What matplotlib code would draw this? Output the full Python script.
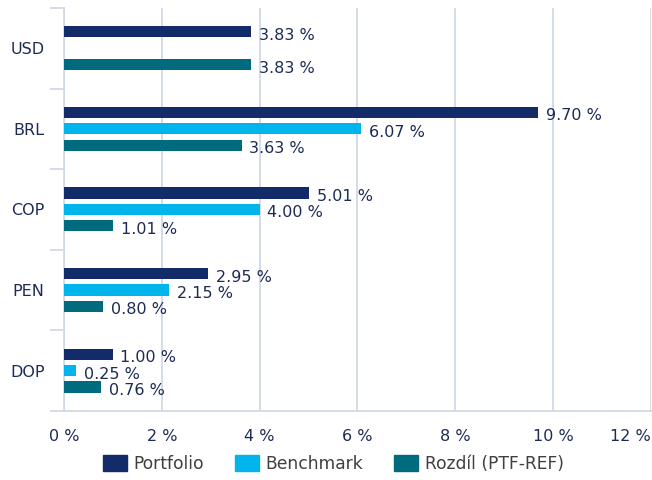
import numpy as np
import matplotlib
matplotlib.use('Agg')
import matplotlib.pyplot as plt
from matplotlib.patches import Patch

categories = ['USD', 'BRL', 'COP', 'PEN', 'DOP']
portfolio = [3.83, 9.70, 5.01, 2.95, 1.00]
benchmark = [np.nan, 6.07, 4.00, 2.15, 0.25]
rozdil = [3.83, 3.63, 1.01, 0.80, 0.76]

series_names = ['Portfolio', 'Benchmark', 'Rozdíl (PTF-REF)']
series_colors = ['#132b69', '#00b5eb', '#006b7f']

LABEL_COLOR = '#1c2b55'
GRID_COLOR = '#cfd9e6'
FS = 11.5

plt.rcParams['font.family'] = ['DejaVu Sans']

fig = plt.figure(figsize=(6.52, 4.8), dpi=100)
ax = fig.add_axes([0.098, 0.144, 0.9005, 0.8395])

y = np.arange(len(categories))
step = 0.204
height = 0.138
for i, (vals, color) in enumerate(zip([portfolio, benchmark, rozdil], series_colors)):
    pos = y + (i - 1) * step
    for p, v in zip(pos, vals):
        if np.isnan(v):
            continue
        ax.barh(p, v, height=height, color=color, zorder=3)
        ax.annotate('{:.2f} %'.format(v), xy=(v, p), xytext=(5.5, -2.5),
                    textcoords='offset points', va='center', ha='left',
                    fontsize=FS, color=LABEL_COLOR, zorder=4)

ax.set_xlim(0, 12)
ax.set_ylim(len(categories) - 0.5, -0.5)
ax.set_xticks(range(0, 13, 2))
ax.set_xticklabels(['{} %'.format(t) for t in range(0, 13, 2)])
ax.get_xticklabels()[-1].set_horizontalalignment('right')
ax.set_yticks(y)
ax.set_yticklabels(categories)
ax.set_yticks(np.arange(-0.5, len(categories)), minor=True)

ax.tick_params(axis='y', which='major', length=0, pad=14, labelsize=FS,
               labelcolor=LABEL_COLOR)
ax.tick_params(axis='y', which='minor', length=10, width=1.3, color=GRID_COLOR)
ax.tick_params(axis='x', length=0, pad=13, labelsize=FS, labelcolor=LABEL_COLOR)

ax.grid(axis='x', color=GRID_COLOR, linewidth=1.3, zorder=0)
for side in ['top', 'right']:
    ax.spines[side].set_visible(False)
for side in ['left', 'bottom']:
    ax.spines[side].set_color(GRID_COLOR)
    ax.spines[side].set_linewidth(1.3)

handles = [Patch(color=c, label=n) for n, c in zip(series_names, series_colors)]
fig.legend(handles=handles, loc='center', bbox_to_anchor=(0.511, 0.034),
           ncol=3, frameon=False, fontsize=12.3, labelcolor='#404040',
           handlelength=1.4, handleheight=1.05, columnspacing=1.8,
           handletextpad=0.4, borderpad=0)

fig.savefig('out.png', dpi=100)
